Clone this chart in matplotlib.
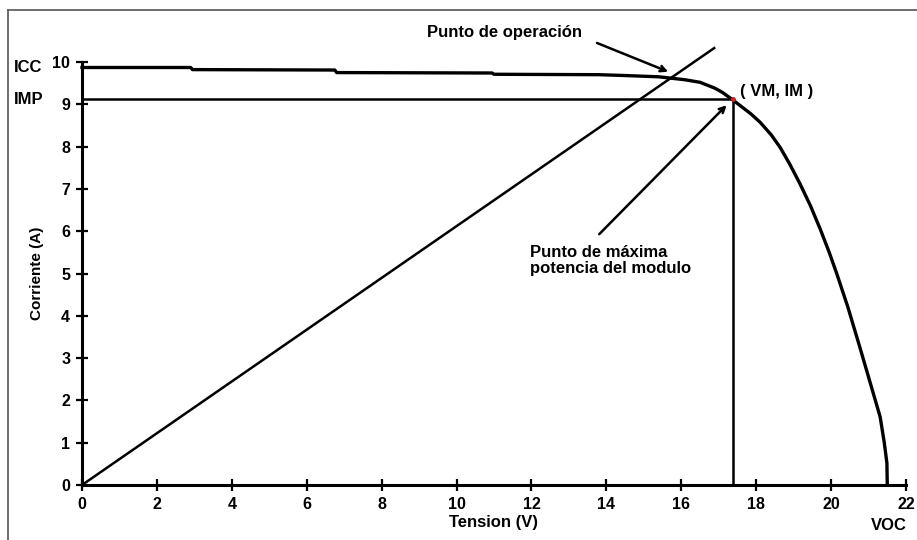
import matplotlib
matplotlib.use("Agg")
import matplotlib.pyplot as plt
from matplotlib.lines import Line2D
from matplotlib.transforms import blended_transform_factory

# I-V curve of the module (tension V, corriente A)
v_curve = [0.0, 2.9, 2.95, 6.75, 6.8, 10.95, 11.0, 13.8, 14.5, 15.4, 16.1, 16.5,
           16.9, 17.1, 17.35, 17.6, 17.85, 18.1, 18.4, 18.64, 18.9, 19.17, 19.45,
           19.71, 19.95, 20.15, 20.45, 20.77, 21.05, 21.31, 21.42, 21.49, 21.5]
i_curve = [9.87, 9.87, 9.82, 9.81, 9.75, 9.74, 9.71, 9.70, 9.68, 9.65, 9.58, 9.52,
           9.38, 9.28, 9.12, 8.95, 8.78, 8.58, 8.28, 7.98, 7.58, 7.12, 6.60,
           6.05, 5.50, 5.00, 4.20, 3.25, 2.40, 1.61, 1.0, 0.52, 0.0]

# load line through the origin
v_load = [0.0, 16.88]
i_load = [0.0, 10.33]

# maximum power point
vm, im = 17.38, 9.12
icc = 9.87
voc = 21.5

x_ticks = [0, 2, 4, 6, 8, 10, 12, 14, 16, 18, 20, 22]
y_ticks = [0, 1, 2, 3, 4, 5, 6, 7, 8, 9, 10]

plt.rcParams["font.family"] = ["Liberation Sans", "DejaVu Sans"]
plt.rcParams["font.weight"] = "bold"

fig = plt.figure(figsize=(9.17, 5.4), dpi=100)
ax = fig.add_axes([82 / 917, 55 / 540, 824 / 917, 423 / 540])

# outer frame
fig.add_artist(Line2D([8 / 917, 8 / 917], [0, 1 - 10 / 540], color="#555555", lw=1.2))
fig.add_artist(Line2D([8 / 917, 1], [1 - 10 / 540, 1 - 10 / 540], color="#555555", lw=1.2))

ax.plot(v_curve, i_curve, color="black", lw=2.4, clip_on=False, zorder=3,
        solid_joinstyle="round")
ax.plot(v_load, i_load, color="black", lw=1.8, clip_on=False, zorder=3)
ax.plot([0, vm], [im, im], color="black", lw=1.8, zorder=2)
ax.plot([vm, vm], [0, im], color="black", lw=1.8, zorder=2)
ax.plot([vm], [im], "o", color="#cc2222", ms=2.5, zorder=4)

ax.set_xlim(0, 22)
ax.set_ylim(0, 10)
ax.set_xticks(x_ticks)
ax.set_yticks(y_ticks)
for s in ("top", "right"):
    ax.spines[s].set_visible(False)
for s in ("left", "bottom"):
    ax.spines[s].set_linewidth(2.2)
ax.tick_params(direction="inout", length=9, width=1.6, labelsize=11.5, pad=4)
for lab in ax.get_xticklabels() + ax.get_yticklabels():
    lab.set_fontweight("bold")

ax.set_xlabel("Tension (V)", fontsize=12, fontweight="bold", labelpad=2)
ax.set_ylabel("Corriente (A)", fontsize=11, fontweight="bold", labelpad=6)

fig_y = blended_transform_factory(fig.transFigure, ax.transData)
ax.text(14 / 917, icc, "ICC", transform=fig_y, fontsize=12, fontweight="bold",
        ha="left", va="center")
ax.text(14 / 917, im, "IMP", transform=fig_y, fontsize=12, fontweight="bold",
        ha="left", va="center")
ax.text(voc + 0.05, -0.95, "VOC", fontsize=12, fontweight="bold", ha="center", va="center")

ax.text(vm + 0.2, 9.31, "( VM, IM )", fontsize=12, fontweight="bold", ha="left", va="center")

ax.text(11.28, 10.69, "Punto de operación", fontsize=12, fontweight="bold",
        ha="center", va="center", clip_on=False)
ax.annotate("", xy=(15.65, 9.77), xytext=(13.75, 10.45), annotation_clip=False,
            arrowprops=dict(arrowstyle="->", color="black", lw=1.8, shrinkA=0, shrinkB=0))

ax.annotate("", xy=(17.21, 8.98), xytext=(13.81, 5.93),
            arrowprops=dict(arrowstyle="->", color="black", lw=1.8, shrinkA=0, shrinkB=0))
ax.text(11.96, 5.67, "Punto de máxima\npotencia del modulo", fontsize=12,
        fontweight="bold", ha="left", va="top", linespacing=1.05)

fig.savefig("out.png", dpi=100)
